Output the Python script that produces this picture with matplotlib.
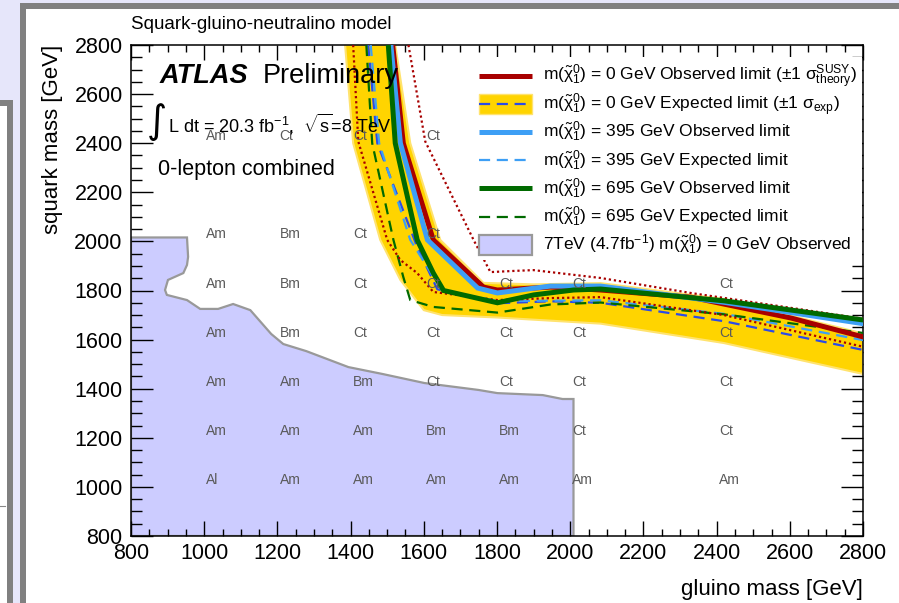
import numpy as np
import matplotlib
matplotlib.use("Agg")
import matplotlib.pyplot as plt
from matplotlib.patches import Rectangle
from matplotlib.lines import Line2D
from matplotlib.ticker import MultipleLocator

plt.rcParams["font.family"] = ["Liberation Sans", "DejaVu Sans"]
plt.rcParams["mathtext.fontset"] = "custom"
plt.rcParams["mathtext.rm"] = "Liberation Sans"
plt.rcParams["mathtext.it"] = "Liberation Sans:italic"
plt.rcParams["mathtext.bf"] = "Liberation Sans:bold"
plt.rcParams["mathtext.sf"] = "Liberation Sans"

# ==============================
# Limit contours (gluino mass, squark mass) in GeV
# ==============================

obs0_x = [1515, 1544, 1626, 1763, 1801, 1946, 2083, 2329, 2603, 2800]
obs0_y = [2800, 2400, 2006, 1814, 1802, 1814, 1802, 1773, 1688, 1611]

obs0_up_x = [1558, 1604, 1736, 1782, 1850, 1900, 2083, 2329, 2600, 2800]
obs0_up_y = [2800, 2407, 2006, 1875, 1880, 1883, 1851, 1790, 1730, 1685]

obs0_dn_x = [1407, 1421, 1500, 1536, 1582, 1626, 1801, 1946, 2083, 2420, 2800]
obs0_dn_y = [2800, 2407, 2006, 1924, 1871, 1794, 1761, 1769, 1773, 1700, 1571]

exp0_x = [1448, 1473, 1582, 1637, 1801, 1946, 2083, 2420, 2800]
exp0_y = [2800, 2400, 1977, 1805, 1748, 1756, 1750, 1675, 1558]

band_up_x = [1522, 1563, 1645, 1763, 1900, 2083, 2420, 2800]
band_up_y = [2800, 2400, 2006, 1831, 1825, 1830, 1765, 1625]
band_dn_x = [1385, 1407, 1481, 1536, 1600, 1650, 1801, 2083, 2420, 2800]
band_dn_y = [2800, 2400, 2006, 1843, 1720, 1700, 1690, 1665, 1586, 1460]

obs395_x = [1510, 1536, 1610, 1747, 1801, 1946, 2083, 2420, 2800]
obs395_y = [2800, 2400, 2006, 1810, 1790, 1818, 1818, 1752, 1665]

exp395_x = [1455, 1478, 1563, 1650, 1801, 2083, 2420, 2800]
exp395_y = [2800, 2400, 2006, 1800, 1757, 1760, 1705, 1598]

obs695_x = [1503, 1522, 1582, 1626, 1654, 1801, 1900, 2009, 2083, 2420, 2800]
obs695_y = [2800, 2400, 2006, 1871, 1800, 1750, 1782, 1802, 1806, 1758, 1680]

exp695_x = [1443, 1459, 1517, 1544, 1563, 1626, 1801, 1946, 2083, 2420, 2800]
exp695_y = [2800, 2400, 2006, 1855, 1761, 1733, 1710, 1743, 1751, 1703, 1627]

# 7 TeV observed exclusion
old_x = [800, 953, 956, 953, 943, 901, 893, 898, 953, 989, 1038, 1079, 1126,
         1183, 1216, 1279, 1394, 1487, 1602, 1749, 1801, 1925, 1979, 2009, 2009, 800]
old_y = [2016, 2016, 1937, 1904, 1871, 1843, 1802, 1782, 1761, 1725, 1725, 1745, 1720,
         1623, 1582, 1553, 1488, 1460, 1423, 1395, 1382, 1374, 1358, 1358, 800, 800]

# signal-region labels per grid point
label_cols = [1000, 1200, 1400, 1600, 1800, 2000, 2400]
row_2400 = ["Am", "Ct", "Ct", "Ct", None, None, None]
row_2000 = ["Am", "Bm", "Ct", "Ct", None, None, None]
row_1800 = ["Am", "Bm", "Ct", "Ct", "Ct", "Ct", "Ct"]
row_1600 = ["Am", "Bm", "Ct", "Ct", "Ct", "Ct", "Ct"]
row_1400 = ["Am", "Am", "Bm", "Ct", "Ct", "Ct", "Ct"]
row_1200 = ["Am", "Am", "Am", "Bm", "Bm", "Ct", "Ct"]
row_1000 = ["Al", "Am", "Am", "Am", "Am", "Am", "Am"]
label_rows = {2400: row_2400, 2000: row_2000, 1800: row_1800, 1600: row_1600,
              1400: row_1400, 1200: row_1200, 1000: row_1000}

RED = "#a80000"
YELLOW = "#ffd400"
BLUE = "#2b4be8"
LBLUE = "#3d9ff5"
GREEN = "#006a00"
LAVENDER = "#ccccff"

W, H = 899, 603
fig = plt.figure(figsize=(W / 100, H / 100), dpi=100)
fig.patch.set_facecolor("#e6e6fa")


def px_rect(x0, y0, x1, y1, color):
    # pixel box (top-left origin) -> figure fraction rectangle
    fig.patches.append(Rectangle((x0 / W, 1 - y1 / H), (x1 - x0) / W, (y1 - y0) / H,
                                 transform=fig.transFigure, facecolor=color,
                                 edgecolor="none", zorder=-10))


# window frames behind the canvas
px_rect(-10, 100, 13, 620, "#808080")
px_rect(-10, 106, 7, 620, "white")
px_rect(20, 3, 920, 620, "#808080")
px_rect(26, 9, 920, 620, "white")
fig.lines.append(Line2D([0, 5 / W], [1 - 506 / H] * 2, transform=fig.transFigure,
                        color="#888888", lw=0.8))

ax = fig.add_axes([131 / W, 1 - 536 / H, 732 / W, 491 / H])
ax.set_facecolor("white")

# ==============================
# Regions and limit curves
# ==============================

ax.fill(old_x, old_y, facecolor=LAVENDER, edgecolor="#999999", lw=1.6, zorder=1)

band_x = np.concatenate([band_up_x, band_dn_x[::-1]])
band_y = np.concatenate([band_up_y, band_dn_y[::-1]])
ax.fill(band_x, band_y, facecolor=YELLOW, edgecolor="#ffe36e", lw=1.5, zorder=2)

dash = (0, (5, 3))
dot = (0, (1, 1.3))
ax.plot(exp0_x, exp0_y, color=BLUE, lw=1.6, ls=dash, zorder=3)
ax.plot(exp395_x, exp395_y, color=LBLUE, lw=1.6, ls=dash, zorder=3)
ax.plot(exp695_x, exp695_y, color=GREEN, lw=1.6, ls=dash, zorder=3)
ax.plot(obs0_up_x, obs0_up_y, color=RED, lw=1.6, ls=dot, zorder=3)
ax.plot(obs0_dn_x, obs0_dn_y, color=RED, lw=1.6, ls=dot, zorder=3)
ax.plot(obs0_x, obs0_y, color=RED, lw=3.6, zorder=4, solid_joinstyle="miter")
ax.plot(obs395_x, obs395_y, color=LBLUE, lw=3.6, zorder=4, solid_joinstyle="miter")
ax.plot(obs695_x, obs695_y, color=GREEN, lw=3.6, zorder=4, solid_joinstyle="miter")

for row, names in label_rows.items():
    for col, name in zip(label_cols, names):
        if name:
            ax.text(col + 6, row, name, fontsize=10, color="#5a5a5a",
                    ha="left", va="bottom", zorder=5)

# ==============================
# Axes
# ==============================

ax.set_xlim(800, 2800)
ax.set_ylim(800, 2800)
ax.xaxis.set_major_locator(MultipleLocator(200))
ax.yaxis.set_major_locator(MultipleLocator(200))
ax.xaxis.set_minor_locator(MultipleLocator(50))
ax.yaxis.set_minor_locator(MultipleLocator(50))
ax.tick_params(which="both", direction="in", top=True, right=True, width=1.0,
               labelsize=15.5)
ax.tick_params(axis="x", which="major", length=10.5, pad=5)
ax.tick_params(axis="x", which="minor", length=5.3)
ax.tick_params(axis="y", which="major", length=15.8, pad=6)
ax.tick_params(axis="y", which="minor", length=7.9)
for s in ax.spines.values():
    s.set_linewidth(1.1)

ax.set_xlabel("gluino mass [GeV]", fontsize=16, ha="right", va="top")
ax.xaxis.set_label_coords(1.0, -0.087)
ax.set_ylabel("squark mass [GeV]", fontsize=16, ha="right", va="bottom")
ax.yaxis.set_label_coords(-0.093, 1.0)

# ==============================
# Annotations
# ==============================

tr = ax.transAxes
ax.text(0.0, 1.0326, "Squark-gluino-neutralino model", fontsize=13.5,
        transform=tr, va="baseline", ha="left")
ax.text(0.0396, 0.9226, "ATLAS", fontsize=19.5, weight="bold", style="italic",
        transform=tr, va="baseline", zorder=10)
ax.text(0.1803, 0.9226, "Preliminary", fontsize=19.5, transform=tr,
        va="baseline", zorder=10)
ax.text(0.021, 0.843, "∫", fontsize=28, family="DejaVu Sans", transform=tr,
        va="center", ha="left", zorder=10)
ax.text(0.0505, 0.8208, r"L dt = 20.3 fb$^{-1}$,  $\sqrt{\mathrm{s}}$=8 TeV",
        fontsize=13, transform=tr, va="baseline", zorder=10)
ax.text(0.0369, 0.7352, "0-lepton combined", fontsize=15.5, transform=tr,
        va="baseline", zorder=10)

# legend drawn by hand to keep ROOT-like even row spacing
ax.add_patch(Rectangle(((480 - 131) / 732, (536 - 260) / 491), (862 - 480) / 732,
                       (260 - 57) / 491, transform=tr, facecolor="white",
                       edgecolor="none", zorder=6))
chi = "m($\\tilde{\\mathrm{χ}}^{0}_{1}$)"
sig = "$\\mathrm{σ}"
legend_texts = [
    chi + " = 0 GeV Observed limit ($\\pm$1 " + sig + "^{\\rm SUSY}_{\\rm theory}$)",
    chi + " = 0 GeV Expected limit ($\\pm$1 " + sig + "_{\\rm exp}$)",
    chi + " = 395 GeV Observed limit",
    chi + " = 395 GeV Expected limit",
    chi + " = 695 GeV Observed limit",
    chi + " = 695 GeV Expected limit",
    "7TeV (4.7fb$^{-1}$) " + chi + " = 0 GeV Observed",
]
legend_lines = [(RED, "-", 3.6), (BLUE, dash, 1.6), (LBLUE, "-", 3.6),
                (LBLUE, dash, 1.6), (GREEN, "-", 3.6), (GREEN, dash, 1.6), None]
x0, x1 = (479 - 131) / 732, (532 - 131) / 732
row_h = 28.2 / 491
box_h = 20 / 491
for i, (label, style) in enumerate(zip(legend_texts, legend_lines)):
    yc = (536 - 75.5) / 491 - i * row_h
    if i == 1:
        ax.add_patch(Rectangle((x0, yc - box_h / 2), x1 - x0, box_h, transform=tr,
                               facecolor=YELLOW, edgecolor="#ffe36e", zorder=7))
    if style is None:
        ax.add_patch(Rectangle((x0, yc - box_h / 2), x1 - x0, box_h, transform=tr,
                               facecolor=LAVENDER, edgecolor="#999999", lw=1.6,
                               zorder=7))
    else:
        color, ls, lw = style
        ax.plot([x0, x1], [yc, yc], color=color, ls=ls, lw=lw, transform=tr,
                zorder=8, solid_capstyle="butt")
    ax.text((543 - 131) / 732, yc - 5.5 / 491, label, fontsize=12.5, transform=tr,
            va="baseline", ha="left", zorder=8)

fig.savefig("out.png", dpi=100, facecolor=fig.get_facecolor())
